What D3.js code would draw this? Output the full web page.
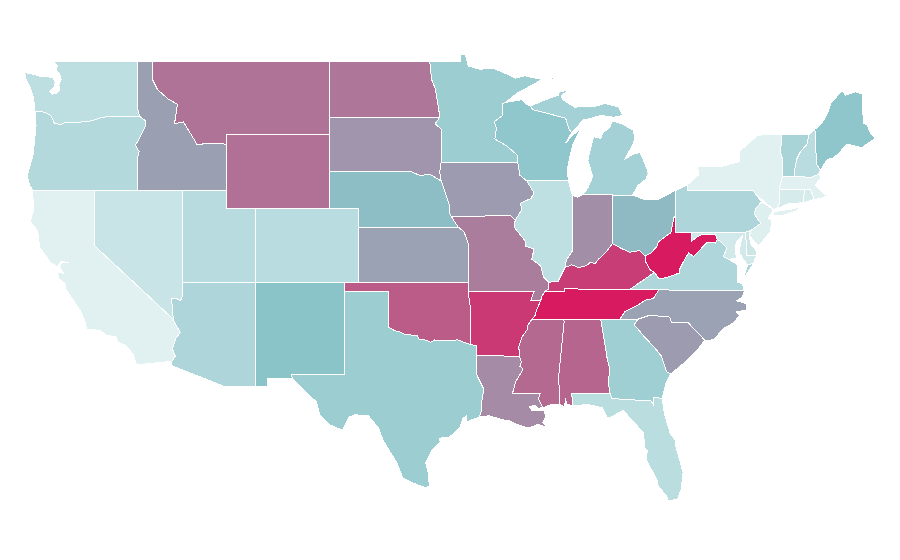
<!DOCTYPE html>
<html>
<head>
<meta charset="utf-8">
<style>
  html, body { margin: 0; background: #fff; }
  path.state { stroke: #fff; stroke-width: 1; shape-rendering: crispEdges; }
</style>
<script src="https://cdn.jsdelivr.net/npm/d3@7"></script>
</head>
<body>
<svg id="canvas" width="900" height="560"></svg>
<script>
// shared borders, [lon, lat]
const waOr = [[-124.0,46.25],[-123.5,46.25],[-123.2,46.15],[-122.95,46.05],[-122.8,45.8],[-122.75,45.65],[-122.3,45.55],[-121.9,45.68],[-121.2,45.65],[-120.6,45.73],[-120.2,45.75],[-119.6,45.92],[-119.0,46.0],[-116.92,46.0]];
const idOr = [[-116.92,46.0],[-116.5,45.75],[-116.5,45.5],[-116.75,45.1],[-116.9,44.85],[-117.2,44.45],[-117.05,44.2],[-116.95,44.1],[-117.03,43.85],[-117.03,42]];
const mtId = [[-116.05,49],[-116.05,48],[-115.7,47.45],[-115.0,46.95],[-114.35,46.65],[-114.55,45.6],[-113.95,45.7],[-113.45,45.05],[-113.0,44.45],[-112.3,44.55],[-111.5,44.55],[-111.05,44.48]];
const caAz = [[-114.63,35.0],[-114.57,34.85],[-114.15,34.27],[-114.45,34.0],[-114.7,33.4],[-114.5,33.0],[-114.72,32.72]];
const nvAz = [[-114.04,36.2],[-114.15,36.0],[-114.4,36.12],[-114.73,36.1],[-114.72,35.8],[-114.63,35.0]];
const redRiver = [[-100,34.56],[-99.6,34.38],[-99.2,34.3],[-98.95,34.2],[-98.6,34.15],[-98.1,34.13],[-97.9,33.88],[-97.6,33.9],[-97.15,33.75],[-96.9,33.88],[-96.6,33.85],[-96.0,33.85],[-95.3,33.88],[-94.9,33.75],[-94.48,33.64]];
const sabine = [[-94.04,33.02],[-94.04,32],[-93.8,31.6],[-93.55,31.2],[-93.7,30.5],[-93.7,30.1],[-93.85,29.7]];
const missNorth = [[-90.3,35.0],[-90.55,34.7],[-90.6,34.45],[-90.95,34.05],[-91.1,33.7],[-91.2,33.45],[-91.1,33.2],[-91.15,33.0]];
const missSouth = [[-91.15,33.0],[-91.0,32.7],[-91.1,32.45],[-90.9,32.3],[-91.1,32.0],[-91.4,31.6],[-91.5,31.3],[-91.6,31.0],[-89.73,31.0],[-89.85,30.67],[-89.55,30.2]];
const missBend = [[-89.42,36.5],[-89.6,36.25],[-89.7,36.0],[-89.75,35.9],[-89.95,35.55],[-90.1,35.15],[-90.3,35.0]];
const neSide = [[-96.45,42.5],[-96.1,41.7],[-95.9,41.2],[-95.85,40.7],[-95.77,40.58]];
const neKs = [[-95.77,40.58],[-95.3,40]];
const mnWi = [[-92.1,46.75],[-92.3,46.66],[-92.25,46.07],[-92.85,45.7],[-92.7,45.35],[-92.8,44.77],[-92.0,44.4],[-91.3,43.9],[-91.25,43.5]];
const wiMi = [[-90.4,46.55],[-90.2,46.35],[-89.1,46.13],[-88.0,45.9],[-87.8,45.35],[-87.6,45.1]];
const ilMo = [[-91.42,40.38],[-91.5,40.0],[-90.75,39.25],[-90.7,38.95],[-90.15,38.8],[-90.3,38.25],[-89.7,37.9],[-89.5,37.3],[-89.15,37.0]];
const iaIl = [[-90.64,42.5],[-90.15,41.85],[-90.35,41.55],[-91.05,41.3],[-91.0,40.9],[-91.42,40.38]];
const inKy = [[-84.82,39.1],[-85.2,38.7],[-85.45,38.5],[-85.75,38.27],[-86.0,38.0],[-86.3,38.1],[-86.6,37.9],[-87.1,37.8],[-87.6,37.95],[-88.05,37.8]];
const ilIn = [[-88.05,37.8],[-87.95,38.2],[-87.55,38.7],[-87.53,39.35],[-87.53,41.72]];
const ohKy = [[-84.82,39.1],[-84.25,38.85],[-83.65,38.63],[-83.0,38.72],[-82.6,38.42]];
const ohWv = [[-82.6,38.42],[-82.2,38.6],[-81.8,38.95],[-81.7,39.2],[-80.85,39.7],[-80.65,40.5],[-80.52,40.64]];
const kyWv = [[-82.6,38.42],[-82.6,38.17],[-82.3,37.7],[-81.97,37.54]];
const tnNc = [[-81.68,36.59],[-82.05,36.12],[-82.6,36.03],[-83.1,35.77],[-84.0,35.4],[-84.32,34.99]];
const ncSc = [[-83.1,35.0],[-82.35,35.2],[-81.05,35.15],[-80.93,35.1],[-80.8,34.82],[-79.67,34.8],[-78.55,33.86]];
const gaSc = [[-83.1,35.0],[-83.35,34.7],[-82.6,34.0],[-82.0,33.5],[-81.5,33.0],[-81.15,32.15],[-80.85,32.05]];
const gaFl = [[-81.45,30.72],[-82.05,30.75],[-82.05,30.36],[-82.2,30.57],[-84.86,30.7],[-85.0,31.0]];
const alGa = [[-85.0,31.0],[-85.1,31.6],[-85.0,32.3],[-85.18,32.87],[-85.61,34.98]];
const alMs = [[-88.2,35.0],[-88.1,34.9],[-88.47,31.9],[-88.4,30.37]];
const vaWv = [[-81.97,37.54],[-81.68,37.2],[-81.2,37.25],[-80.3,37.5],[-80.3,37.65],[-79.95,38.2],[-79.65,38.6],[-79.3,38.4],[-78.87,38.77],[-78.4,39.17],[-77.83,39.13],[-77.72,39.32]];
const mdVa = [[-77.72,39.32],[-77.45,39.2],[-77.05,38.85],[-77.3,38.4],[-76.95,38.25]];
const mdWv = [[-77.72,39.32],[-77.83,39.6],[-78.2,39.6],[-78.4,39.6],[-78.75,39.6],[-79.1,39.45],[-79.48,39.2],[-79.48,39.72]];
const nyPa = [[-79.76,42.27],[-79.76,42],[-75.35,42],[-75.05,41.75],[-74.7,41.36]];
const paNj = [[-74.7,41.36],[-75.1,41.0],[-75.2,40.7],[-74.75,40.2],[-75.45,39.8]];
const nhVt = [[-71.5,45.0],[-71.6,44.5],[-72.05,44.1],[-72.3,43.7],[-72.45,43.1],[-72.46,42.73]];
const meNh = [[-71.08,45.3],[-71.03,44.65],[-70.98,43.4],[-70.7,43.08]];

const rev = a => a.slice().reverse();

// one entry per state, same order in all three arrays
const stateNames = ['WA','OR','CA','NV','ID','MT','WY','UT','CO','AZ','NM','TX','OK','KS','NE','SD','ND','MN','IA','MO','AR','LA','WI','IL','IN','MI','OH','KY','TN','MS','AL','GA','FL','SC','NC','VA','WV','MD','DE','PA','NJ','NY','CT','RI','MA','VT','NH','ME'];

const stateValues = [21,27,1,15,61,74,75,25,24,30,50,40,81,60,52,64,73,40,62,71,91,67,47,20,66,36,53,90,100,77,78,38,23,62,60,29,100,10,13,30,3,1,8,8,1,33,24,48];

const stateRings = [
  // WA
  [[[-117.04,49],[-122.76,49],[-122.5,48.75],[-122.6,48.5],[-122.35,48.3],[-122.25,48.0],[-122.4,47.7],[-122.35,47.4],[-122.55,47.25],[-122.85,47.2],[-123.0,47.35],[-122.75,47.55],[-122.65,47.85],[-122.8,48.1],[-123.2,48.15],[-123.7,48.17],[-124.1,48.28],[-124.72,48.38],[-124.65,48.05],[-124.35,47.55],[-124.1,46.95],[-124.05,46.3],...waOr,[-117.04,46.4]]],
  // OR
  [[...waOr,...idOr,[-124.2,42],[-124.4,42.3],[-124.55,42.8],[-124.4,43.2],[-124.15,43.9],[-124.05,44.7],[-123.95,45.5]]],
  // CA
  [[[-124.2,42],[-120,42],[-120,39],...caAz,[-117.12,32.53],[-117.25,32.85],[-117.35,33.1],[-117.9,33.6],[-118.4,33.75],[-118.5,34.03],[-119.2,34.15],[-119.6,34.4],[-120.5,34.45],[-120.65,34.9],[-120.9,35.4],[-121.9,36.6],[-122.0,36.95],[-122.4,37.2],[-122.5,37.55],[-122.1,37.5],[-122.35,37.85],[-122.2,38.05],[-121.7,38.05],[-122.25,38.15],[-122.5,37.85],[-122.95,38.05],[-123.7,38.9],[-123.85,39.8],[-124.35,40.3],[-124.1,41.0]]],
  // NV
  [[[-120,42],[-114.04,42],...nvAz,[-120,39]]],
  // ID
  [[[-117.04,49],...mtId,[-111.05,42],...rev(idOr),[-117.04,46.4]]],
  // MT
  [[...mtId,[-111.05,45],[-104.05,45],[-104.05,49]]],
  // WY
  [[[-111.05,45],[-104.05,45],[-104.05,41],[-111.05,41]]],
  // UT
  [[[-114.04,42],[-111.05,42],[-111.05,41],[-109.05,41],[-109.05,37],[-114.04,37]]],
  // CO
  [[[-109.05,41],[-102.05,41],[-102.05,37],[-109.05,37]]],
  // AZ
  [[[-114.04,37],[-109.05,37],[-109.05,31.33],[-111.07,31.33],[-114.8,32.5],...rev(caAz),...rev(nvAz)]],
  // NM
  [[[-109.05,37],[-103,37],[-103.04,32],[-106.62,32],[-106.53,31.78],[-108.21,31.78],[-108.21,31.33],[-109.05,31.33]]],
  // TX
  [[[-103,36.5],[-100,36.5],...redRiver,[-94.04,33.55],...sabine,[-94.7,29.45],[-94.75,29.75],[-95.0,29.6],[-95.15,29.15],[-95.9,28.6],[-96.6,28.55],[-96.5,28.35],[-97.1,27.85],[-97.5,27.2],[-97.35,26.8],[-97.25,25.95],[-97.5,25.88],[-98.2,26.07],[-99.05,26.4],[-99.45,27.2],[-100.4,28.45],[-100.7,29.1],[-101.4,29.77],[-102.3,29.82],[-102.7,29.7],[-103.15,28.98],[-104.0,29.27],[-104.7,29.8],[-104.9,30.5],[-106.0,31.35],[-106.53,31.78],[-106.62,32],[-103.04,32]]],
  // OK
  [[[-103,37],[-94.62,37],[-94.62,36.5],[-94.43,35.4],...rev(redRiver),[-100,36.5],[-103,36.5]]],
  // KS
  [[[-102.05,40],[-95.3,40],[-94.9,39.75],[-94.61,39.1],[-94.62,37],[-102.05,37]]],
  // NE
  [[[-104.05,43],[-98.5,43],[-97.9,42.8],[-97.2,42.85],...neSide,...neKs,[-102.05,40],[-102.05,41],[-104.05,41]]],
  // SD
  [[[-104.05,45.94],[-96.56,45.94],[-96.85,45.6],[-96.45,45.3],[-96.45,43.5],[-96.55,43.0],[-96.45,42.5],[-97.2,42.85],[-97.9,42.8],[-98.5,43],[-104.05,43]]],
  // ND
  [[[-104.05,49],[-97.23,49],[-97.1,48],[-96.85,47.5],[-96.6,46.3],[-96.56,45.94],[-104.05,45.94]]],
  // MN
  [[[-97.23,49],[-95.15,49],[-95.15,49.38],[-94.8,49.33],[-94.6,48.72],[-93.8,48.55],[-92.95,48.62],[-92.0,48.3],[-91.4,48.07],[-90.8,48.2],[-89.6,48.0],[-90.5,47.6],[-91.3,47.25],...mnWi,[-96.45,43.5],[-96.45,45.3],[-96.85,45.6],[-96.56,45.94],[-96.6,46.3],[-96.85,47.5],[-97.1,48]]],
  // IA
  [[[-96.45,43.5],[-91.25,43.5],[-91.1,42.8],...iaIl,[-91.73,40.61],...rev(neSide),[-96.55,43.0]]],
  // MO
  [[[-95.77,40.58],[-91.73,40.61],...ilMo,[-89.15,36.65],[-89.42,36.5],[-89.7,36],[-90.37,36],[-90.15,36.5],[-94.62,36.5],[-94.62,37],[-94.61,39.1],[-94.9,39.75],[-95.3,40]]],
  // AR
  [[[-94.62,36.5],[-90.15,36.5],[-90.37,36],...missBend.slice(2),...missNorth.slice(1),[-94.04,33.02],[-94.04,33.55],[-94.48,33.64],[-94.43,35.4]]],
  // LA
  [[...sabine.slice(0,1),...missSouth,[-89.85,30.18],[-90.1,30.35],[-90.45,30.25],[-90.3,30.05],[-89.85,30.03],[-89.45,30.05],[-89.35,29.7],[-89.55,29.4],[-89.2,29.05],[-89.45,29.2],[-89.9,29.3],[-90.5,29.1],[-91.3,29.3],[-91.8,29.5],[-92.3,29.55],[-93.2,29.77],...rev(sabine)]],
  // WI
  [[...mnWi,[-91.1,42.8],[-90.64,42.5],[-87.8,42.5],[-87.9,43],[-87.75,43.7],[-87.5,44.5],[-87.0,45.3],[-87.5,45.0],[-88.0,44.55],...rev(wiMi),[-90.75,46.7],[-91.0,46.9]]],
  // IL
  [[[-90.64,42.5],[-87.8,42.5],[-87.6,41.85],...rev(ilIn),[-88.5,37.07],...rev(ilMo),...rev(iaIl)]],
  // IN
  [[[-87.53,41.72],[-87.2,41.62],[-86.82,41.76],[-84.8,41.76],...inKy,...ilIn.slice(1)]],
  // MI, upper and lower peninsula and Isle Royale
  [[...wiMi,[-86.8,45.8],[-86.5,45.85],[-85.6,46.05],[-84.75,45.95],[-84.1,46.05],[-84.4,46.5],[-85.3,46.7],[-86.0,46.55],[-87.4,46.5],[-88.2,46.9],[-88.3,47.1],[-87.85,47.4],[-88.4,47.35],[-88.5,47.15],[-89.6,46.83]],
   [[-86.82,41.76],[-86.5,42.1],[-86.15,42.75],[-86.5,43.6],[-86.1,44.9],[-85.6,44.8],[-85.5,45.1],[-85.0,45.4],[-84.85,45.75],[-84.2,45.6],[-83.4,45.25],[-83.3,44.8],[-83.4,44.55],[-83.95,43.7],[-83.4,43.95],[-82.95,44.05],[-82.5,43.2],[-82.4,42.9],[-82.55,42.6],[-83.1,42.25],[-83.45,41.73],[-84.8,41.7],[-84.8,41.76]],
   [[-89.2,47.9],[-88.5,48.15],[-88.9,48.1]]],
  // OH
  [[[-84.8,41.7],[-83.45,41.73],[-82.7,41.5],[-81.7,41.5],[-80.52,42],...rev(ohWv),...rev(ohKy)]],
  // KY
  [[...ohKy,...kyWv,[-83.68,36.6],[-88.07,36.65],[-88.07,36.5],[-89.42,36.5],[-89.15,36.65],[-89.15,37.0],[-88.5,37.07],...rev(inKy)]],
  // TN
  [[[-83.68,36.6],...tnNc,[-90.3,35.0],...rev(missBend).slice(1),[-88.07,36.5],[-88.07,36.65]]],
  // MS
  [[...alMs.slice(0,1),...missNorth,...missSouth.slice(1),[-89.0,30.38],...rev(alMs)]],
  // AL
  [[[-85.61,34.98],[-88.2,35.0],...alMs.slice(1),[-88.1,30.25],[-88.0,30.65],[-87.9,30.4],[-87.5,30.3],[-87.6,31.0],...alGa]],
  // GA
  [[[-84.32,34.99],...gaSc,[-81.2,31.5],...gaFl,...alGa.slice(1)]],
  // FL
  [[[-87.6,31],[-87.5,30.3],[-86.5,30.38],[-85.5,30.2],[-85.2,29.68],[-84.9,29.7],[-84.1,30.07],[-83.3,29.35],[-82.7,28.85],[-82.65,28.0],[-82.45,27.9],[-82.55,27.4],[-81.8,26.3],[-81.75,26.0],[-81.1,25.35],[-81.1,25.15],[-80.4,25.25],[-80.15,25.8],[-80.03,26.7],[-80.55,28.2],[-80.55,28.45],[-80.9,28.8],[-81.3,29.9],...gaFl]],
  // SC
  [[...ncSc,[-79.2,33.2],[-80.0,32.6],...rev(gaSc)]],
  // NC
  [[[-81.68,36.59],[-75.87,36.55],[-76.0,36.2],[-76.4,36.0],[-75.75,35.85],[-75.75,35.5],[-76.4,35.4],[-76.2,35.2],[-76.6,34.8],[-77.3,34.5],[-77.95,33.88],...rev(ncSc),[-84.32,34.99],...rev(tnNc).slice(1)]],
  // VA
  [[[-83.68,36.6],...vaWv,...mdVa.slice(1),[-76.3,37.95],[-76.3,37.5],[-76.3,37.0],[-76.0,36.93],[-75.87,36.55],[-81.68,36.59]],
   [[-75.95,37.15],[-75.65,37.95],[-75.24,38.03]]],
  // WV
  [[[-80.52,40.64],[-80.52,39.72],[-79.48,39.72],...rev(mdWv).slice(1),...rev(vaWv),...rev(kyWv),...ohWv]],
  // MD
  [[[-79.48,39.72],[-75.79,39.72],[-75.69,38.46],[-75.05,38.45],[-75.24,38.03],[-75.65,37.95],[-75.9,38.2],[-76.2,38.6],[-76.15,39.0],[-76.0,39.5],[-76.4,39.2],[-76.5,38.8],[-76.4,38.3],[-76.95,38.25],...rev(mdVa).slice(1),...mdWv.slice(1)]],
  // DE
  [[[-75.79,39.72],[-75.45,39.8],[-75.55,39.5],[-75.4,39.05],[-75.08,38.75],[-75.05,38.45],[-75.69,38.46]]],
  // PA
  [[[-80.52,41.98],...nyPa,...paNj,[-75.79,39.72],[-80.52,39.72],[-80.52,40.64]]],
  // NJ
  [[[-74.7,41.36],[-73.9,40.95],[-74.25,40.45],[-74.0,40.4],[-74.1,39.75],[-74.9,38.95],[-75.5,39.5],[-75.45,39.8],...rev(paNj).slice(1)]],
  // NY
  [[[-79.76,42.27],[-78.95,42.85],[-79.05,43.27],[-77.5,43.27],[-76.2,43.55],[-76.2,44.1],[-75.0,44.95],[-74.7,45.0],[-73.35,45.0],[-73.4,44],[-73.25,43.6],[-73.28,42.75],[-73.5,42.05],[-73.5,41.3],[-73.65,41.0],[-73.9,40.95],...rev(nyPa).slice(1)],
   [[-74.0,40.6],[-73.75,40.85],[-72.6,40.98],[-72.0,41.1],[-72.4,40.85],[-73.4,40.6]]],
  // CT
  [[[-73.5,42.05],[-71.8,42.02],[-71.85,41.32],[-72.9,41.25],[-73.65,41.0],[-73.5,41.3]]],
  // RI
  [[[-71.8,42.02],[-71.38,42.02],[-71.12,41.5],[-71.85,41.32]]],
  // MA
  [[[-73.5,42.05],[-73.28,42.75],[-72.46,42.73],[-71.3,42.7],[-70.82,42.87],[-70.65,42.65],[-71.05,42.3],[-70.65,41.95],[-70.5,41.8],[-70.2,41.73],[-70.65,41.55],[-71.12,41.5],[-71.38,42.02],[-71.8,42.02]]],
  // VT
  [[[-73.35,45],...nhVt,[-73.28,42.75],[-73.25,43.6],[-73.4,44]]],
  // NH
  [[[-71.5,45.0],...meNh,[-70.82,42.87],[-71.3,42.7],...rev(nhVt).slice(0,-1)]],
  // ME
  [[[-71.08,45.3],[-70.6,45.63],[-70.2,46.2],[-70.0,46.7],[-69.25,47.4],[-69.0,47.15],[-68.3,47.33],[-67.85,47.2],[-67.8,45.65],[-67.5,45.5],[-67.35,45.15],[-67.0,44.8],[-67.9,44.3],[-68.9,44.5],[-69.4,44.05],[-69.8,43.75],[-70.25,43.65],...rev(meNh)]]
];

// the reference stretches lat, so plain linear scales instead of a projection
const xScale = d3.scaleLinear().domain([-124.7, -67]).range([25, 875]);
const yScale = d3.scaleLinear().domain([49, 25.12]).range([61, 501.5]);

const colorScale = d3.scaleLinear()
  .domain([0, 50, 100])
  .range(['#e3f2f3', '#8ac4c9', '#d81b60']);

const lineGen = d3.line()
  .x(d => xScale(d[0]))
  .y(d => yScale(d[1]));

const svg = d3.select('#canvas');

svg.selectAll('path.state')
  .data(stateNames.map((name, i) => ({ name, value: stateValues[i], rings: stateRings[i] })))
  .join('path')
    .attr('class', 'state')
    .attr('d', d => d.rings.map(r => lineGen(r) + 'Z').join(''))
    .attr('fill', d => colorScale(d.value));
</script>
</body>
</html>
